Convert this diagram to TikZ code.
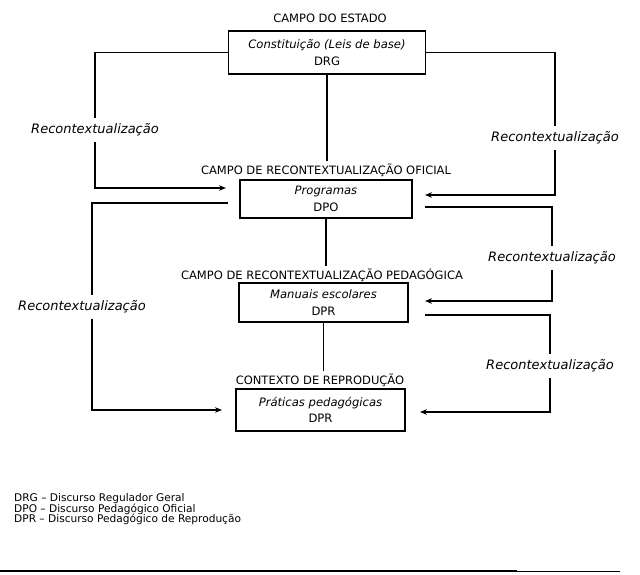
\documentclass[tikz,border=0pt]{standalone}
\usepackage{fontspec}
\setmainfont{DejaVu Sans}
\usetikzlibrary{arrows.meta}
\begin{document}
\begin{tikzpicture}[x=1pt,y=-1pt,
  conn/.style={line width=1.2pt},
  arr/.style={conn,-{Stealth[length=7pt,width=5.5pt]}},
  box/.style={draw,line width=1.3pt,inner sep=0pt,align=center,
    font=\fontsize{11.6}{16.5}\selectfont},
  ttl/.style={font=\fontsize{11.5}{13}\selectfont,inner sep=2pt},
  rec/.style={font=\fontsize{13}{15}\selectfont\itshape,inner sep=5pt},
  legend/.style={font=\fontsize{10.6}{10.8}\selectfont,align=left,anchor=north west,inner sep=0pt}]
\useasboundingbox (0,0) rectangle (640,575);

% titles
\node[ttl] (t1) at (330,18) {CAMPO DO ESTADO};
\node[ttl] (t2) at (326,170) {CAMPO DE RECONTEXTUALIZAÇÃO OFICIAL};
\node[ttl] (t3) at (322,275) {CAMPO DE RECONTEXTUALIZAÇÃO PEDAGÓGICA};
\node[ttl] (t4) at (320,380) {CONTEXTO DE REPRODUÇÃO};

% boxes
\node[box,minimum width=197pt,minimum height=43pt] (b1) at (327,52.5) {\textit{Constituição (Leis de base)}\\DRG};
\node[box,minimum width=172pt,minimum height=38pt] (b2) at (326,199) {\textit{Programas}\\DPO};
\node[box,minimum width=169pt,minimum height=39pt] (b3) at (323.5,302.5) {\textit{Manuais escolares}\\DPR};
\node[box,minimum width=169pt,minimum height=42pt] (b4) at (320.5,410) {\textit{Práticas pedagógicas}\\DPR};

% recontextualization labels
\node[rec] (rL1) at (95,130) {Recontextualização};
\node[rec] (rR1) at (555,138) {Recontextualização};
\node[rec] (rR2) at (552,258) {Recontextualização};
\node[rec] (rL2) at (82,307) {Recontextualização};
\node[rec] (rR3) at (550,366) {Recontextualização};

% free ends near the boxes
\coordinate (aL1) at (226,188);
\coordinate (aR1) at (425,195);
\coordinate (oL2) at (228,203);
\coordinate (aL2) at (222,410);
\coordinate (oR2) at (425,207);
\coordinate (aR2) at (425,301);
\coordinate (oR3) at (425,315);
\coordinate (aR3) at (420,412);

% vertical links between levels
\draw[conn] (b1.south) -- (b1.south |- t2.north);
\draw[conn] (b2.south) -- (b2.south |- t3.north);
\draw[conn] (b3.south) -- (b3.south |- t4.north);

% left top loop
\draw[conn] (b1.west) -| (rL1.north);
\draw[arr] (rL1.south) |- (aL1);
% right top loop
\draw[conn] (b1.east) -| (rR1.north);
\draw[arr] (rR1.south) |- (aR1);
% left lower loop
\draw[conn] (oL2) -| ([xshift=10pt]rL2.north);
\draw[arr] ([xshift=10pt]rL2.south) |- (aL2);
% right middle loop
\draw[conn] (oR2) -| (rR2.north);
\draw[arr] (rR2.south) |- (aR2);
% right bottom loop
\draw[conn] (oR3) -| (rR3.north);
\draw[arr] (rR3.south) |- (aR3);

% legend
\node[legend] (leg) at (14,493) {DRG – Discurso Regulador Geral\\DPO – Discurso Pedagógico Oficial\\DPR – Discurso Pedagógico de Reprodução};

% bottom rule
\draw[line width=2pt] (0,571) -- (517,571);
\draw[line width=0.8pt] (517,571) -- (620,571);
\end{tikzpicture}
\end{document}
